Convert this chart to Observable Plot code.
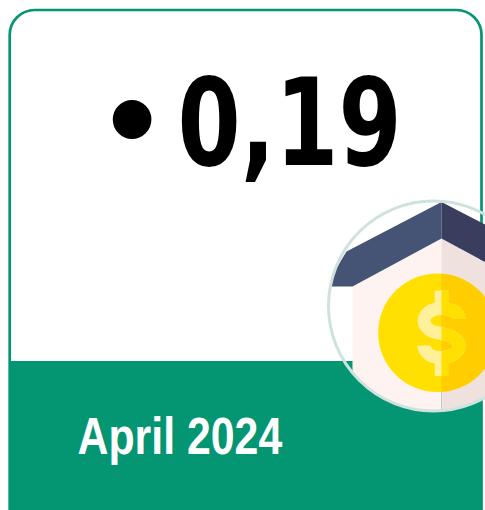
<!DOCTYPE html>
<html>
<head>
<meta charset="utf-8">
<script src="https://cdn.jsdelivr.net/npm/d3@7"></script>
<script src="https://cdn.jsdelivr.net/npm/@observablehq/plot@0.6"></script>
<style>html,body{margin:0;padding:0;background:#fff;overflow:hidden}svg{display:block}</style>
</head>
<body>
<script>
const bulletLabel = "•";
const valueLabel = "0,19";
const periodLabel = "April 2024";
const green = "#049573";
const frameBox = [{x1: 9.7, x2: 481.5, y1: 10, y2: 560}];
const bandBox = [{x1: 9, x2: 482, y1: 361, y2: 510}];
const roofLeft = [[441, 201.5], [346, 251], [325, 286], [352, 286], [441, 238]];
const roofRight = [[441, 201.5], [500, 232], [500, 270], [441, 238]];
const wallLeft = [[352, 286], [441, 238], [441, 420], [352, 420]];
const wallRight = [[441, 238], [500, 270], [500, 420], [441, 420]];
const coin = [{x: 437, y: 332.3}];
const ring = [{x: 433, y: 305.5}];
const dollarBarTop = [[441, 290], [441, 304]];
const dollarBarBottom = [[441, 360], [441, 375.5]];
const dollarCurve = [[458.5, 318.5], [458.2, 316], [456, 312.5], [451, 309.8], [441, 308], [431, 310], [425.5, 314.5], [423.5, 320.5], [425.5, 326], [431, 330.5], [441, 333], [451, 336], [456.5, 340], [458.5, 345], [456.5, 351], [451, 355], [441, 357], [431, 355.5], [426, 351.5], [423.8, 347.5], [423.5, 345]];

const clipTo = (css) => (index, scales, values, dims, ctx, next) => {
  const g = next(index, scales, values, dims, ctx);
  g.style.clipPath = css;
  return g;
};
const squeeze = (sx) => (index, scales, values, dims, ctx, next) => {
  const g = next(index, scales, values, dims, ctx);
  g.querySelectorAll("text").forEach((t) => {
    t.setAttribute("transform", `${t.getAttribute("transform") || ""} scale(${sx},1)`);
  });
  return g;
};
const inRing = clipTo("circle(105px at 433px 305.5px) view-box");
const rightHalf = clipTo("polygon(441px 0px, 485px 0px, 485px 510px, 441px 510px) view-box");
const toXY = (p) => p.map(([x, y]) => ({x, y}));
const closed = (p) => toXY([...p, p[0]]);
const dollar = (stroke, extra) => [
  Plot.line(toXY(dollarBarTop), {x: "x", y: "y", stroke, strokeWidth: 13.5, strokeLinecap: "butt", ...extra}),
  Plot.line(toXY(dollarBarBottom), {x: "x", y: "y", stroke, strokeWidth: 13.5, strokeLinecap: "butt", ...extra}),
  Plot.line(toXY(dollarCurve), {x: "x", y: "y", stroke, strokeWidth: 13, strokeLinecap: "butt", strokeLinejoin: "round", curve: "catmull-rom", ...extra})
];

const chart = Plot.plot({
  width: 485,
  height: 510,
  margin: 0,
  x: {domain: [0, 485], range: [0, 485], axis: null},
  y: {domain: [0, 510], range: [0, 510], axis: null},
  marks: [
    Plot.rect(frameBox, {x1: "x1", x2: "x2", y1: "y1", y2: "y2", fill: "#fff", stroke: green, strokeWidth: 2.7, rx: 25}),
    Plot.rect(bandBox, {x1: "x1", x2: "x2", y1: "y1", y2: "y2", fill: green}),
    Plot.line(closed(wallLeft), {x: "x", y: "y", fill: "#fff3f1", stroke: null, render: inRing}),
    Plot.line(closed(wallRight), {x: "x", y: "y", fill: "#efe2de", stroke: null, render: inRing}),
    Plot.line(closed(roofLeft), {x: "x", y: "y", fill: "#455475", stroke: null, render: inRing}),
    Plot.line(closed(roofRight), {x: "x", y: "y", fill: "#3b3d5e", stroke: null, render: inRing}),
    Plot.dot(coin, {x: "x", y: "y", r: 59.3, fill: "#ffe000", stroke: null}),
    Plot.dot(coin, {x: "x", y: "y", r: 59.3, fill: "#ffcd00", stroke: null, render: rightHalf}),
    dollar("#fff09a", {}),
    dollar("#ffe000", {render: rightHalf}),
    Plot.dot(ring, {x: "x", y: "y", r: 105, fill: "none", stroke: "#cfe3dc", strokeWidth: 3}),
    Plot.text([bulletLabel], {x: () => 131.5, y: () => 120, text: (d) => d, fontFamily: "Liberation Sans", fontWeight: "bold", fontSize: 135, fill: "#000"}),
    Plot.text([valueLabel], {x: () => 289, y: () => 125, text: (d) => d, fontFamily: "DejaVu Sans", fontWeight: "bold", fontSize: 122, fill: "#000", render: squeeze(0.745)}),
    Plot.text([periodLabel], {x: () => 77, y: () => 437, text: (d) => d, textAnchor: "start", fontFamily: "Liberation Sans", fontWeight: "bold", fontSize: 51, fill: "#fff", render: squeeze(0.84)})
  ]
});
document.body.appendChild(chart);
</script>
</body>
</html>
